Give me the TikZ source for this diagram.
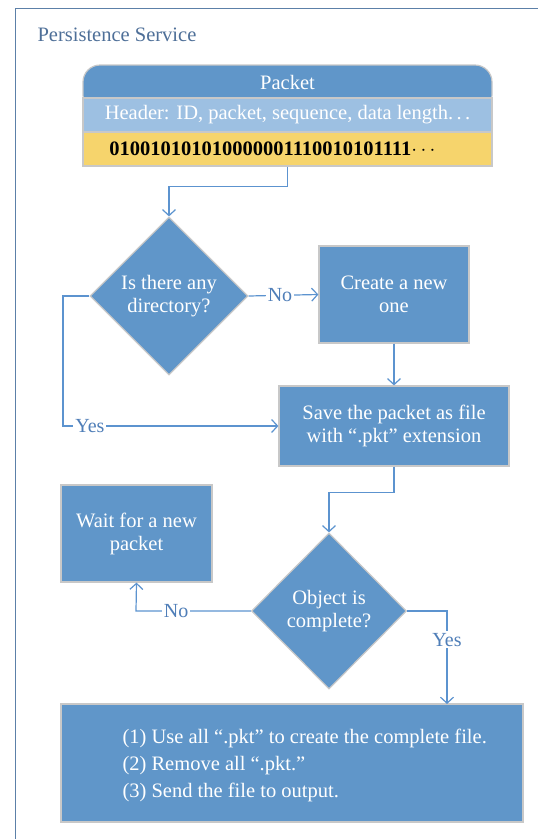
\documentclass[tikz,border=0pt]{standalone}
\usepackage{fontspec}
\setmainfont{Liberation Serif}
\usetikzlibrary{shapes.geometric,arrows.meta}
\definecolor{boxblue}{HTML}{6096C9}
\definecolor{hdrblue}{HTML}{9DC0E2}
\definecolor{datayellow}{HTML}{F6D46C}
\definecolor{edgegray}{HTML}{C8C8C8}
\definecolor{linkblue}{HTML}{5C93CF}
\definecolor{lblblue}{HTML}{4F7EB8}
\definecolor{titleblue}{HTML}{4E6F98}
\definecolor{framecol}{HTML}{5C80A8}
\tikzset{
  txt/.style={font=\fontsize{20.5}{23}\selectfont},
  procbox/.style={txt, rectangle, fill=boxblue, draw=edgegray, line width=1.2pt,
    text=white, align=center, inner sep=0pt},
  decision/.style={txt, diamond, fill=boxblue, draw=edgegray, line width=1.2pt,
    text=white, align=center, inner sep=0pt, aspect=1},
  band/.style={txt, rectangle, draw=edgegray, line width=1.2pt, inner sep=0pt,
    minimum width=409pt, minimum height=34pt},
  link/.style={draw=linkblue, line width=1.2pt,
    -{Straight Barb[length=6pt,width=13pt]}},
  lbl/.style={font=\fontsize{20}{22}\selectfont, text=lblblue, fill=white,
    inner sep=2pt},
}
\begin{document}
\begin{tikzpicture}[x=1pt,y=-1pt]
\useasboundingbox (0,0) rectangle (538,839);
% outer frame
\draw[framecol, line width=1pt] (538,8) -- (15,8) -- (15,839);
\node[txt, text=titleblue, anchor=base west] (title) at (34,41) {Persistence Service};

% packet structure
\path[fill=boxblue, draw=edgegray, line width=1.2pt, rounded corners=17pt]
  (83,112) rectangle (492,65);
\node[txt, text=white] (packetlbl) at (287.5,82) {Packet};
\node[band, fill=hdrblue, text=white] (hdr) at (287.5,115)
  {Header: ID, packet, sequence, data length.\,.\,.};
\node[band, fill=datayellow, text=black] (data) at (287.5,149)
  {\hspace*{-30pt}\textbf{010010101010000001110010101111}$\cdots$};

% flow nodes
\node[decision, minimum width=158pt, minimum height=158pt] (dir) at (169,296)
  {Is there any\\directory?};
\node[procbox, minimum width=150pt, minimum height=97pt] (create) at (394,294.5)
  {Create a new\\one};
\node[procbox, minimum width=230pt, minimum height=80pt] (save) at (394,426)
  {Save the packet as file\\with ``.pkt'' extension};
\node[decision, minimum width=155pt, minimum height=156pt] (obj) at (329,611)
  {Object is\\complete?};
\node[procbox, minimum width=151pt, minimum height=97pt] (wait) at (136.5,533.5)
  {Wait for a new\\packet};
\node[procbox, minimum width=462pt, minimum height=118pt] (final) at (292,763) {};
\node[txt, text=white, anchor=west, align=left,
  font=\fontsize{20.5}{27}\selectfont] (finaltext) at (119,765)
  {(1) Use all ``.pkt'' to create the complete file.\\
   (2) Remove all ``.pkt.''\\
   (3) Send the file to output.};

% connectors
\coordinate (yesL) at (63,296);
\coordinate (yesLb) at (63,426);
\coordinate (noW) at (136,611);
\coordinate (yesR) at (447,611);
\coordinate (yesRb) at (447,704);

\draw[link] (data.south) -- ++(0,20) -| (dir.north);
\draw[link] (dir.east) -- node[lbl, pos=0.45] {No} (create.west);
\draw[link] (create.south) -- (save.north);
\draw[link] (dir.west) -- (yesL) -- (yesLb) -- node[lbl, pos=0.125] {Yes} (save.west);
\draw[link] (save.south) -- ++(0,26) -| (obj.north);
\draw[link] (obj.west) -- node[lbl, pos=0.65] {No} (noW) -- (wait.south);
\draw[link] (obj.east) -- (yesR) -- node[lbl, pos=0.31] {Yes} (yesRb);
\end{tikzpicture}
\end{document}
